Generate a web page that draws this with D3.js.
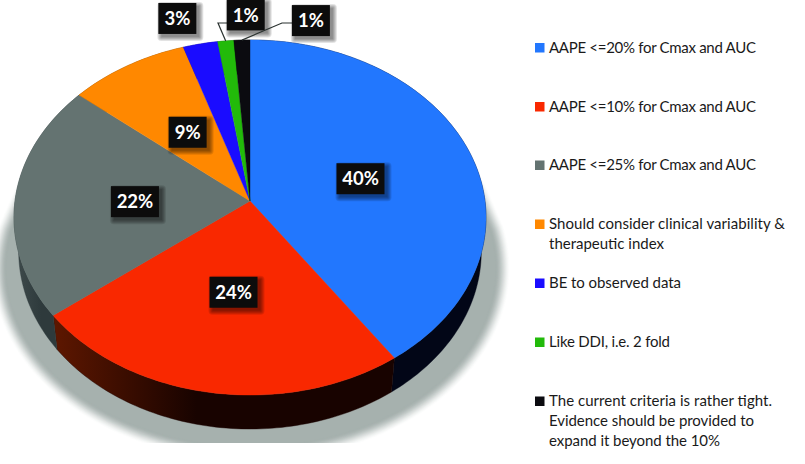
<!DOCTYPE html>
<html><head><meta charset="utf-8">
<script src="https://cdn.jsdelivr.net/npm/d3@7"></script>
<style>html,body{margin:0;background:#fff}svg{display:block}</style></head>
<body><div id="c"></div>
<script>
const categories = ["AAPE <=20% for Cmax and AUC","AAPE <=10% for Cmax and AUC","AAPE <=25% for Cmax and AUC","Should consider clinical variability &\ntherapeutic index","BE to observed data","Like DDI, i.e. 2 fold","The current criteria is rather tight.\nEvidence should be provided to\nexpand it beyond the 10%"];
const values = [40.4,24.1,21.5,9,2.6,1.2,1.2];
const valueLabels = ["40%","24%","22%","9%","3%","1%","1%"];
const topColors = ["#2277fe","#f92800","#647371","#ff8800","#1a0cff","#22ba0a","#0b0b10"];
const sideLight = ["#04081e","#5e1700","#3f4b4c","#7a4000","#0a0480","#0d5a04","#050507"];
const sideDark = ["#020617","#180300","#2e3a3c","#7a4000","#0a0480","#0d5a04","#050507"];
const legendLineWidths = [[207],[207],[207],[236,115],[132],[121],[223,205,171]];

const W=805,H=464,cx=250,cy=201,bR=176,cR=235,k=0.093,depth=34,shrink=0.98;
const project=(a,r=1)=>{const x=Math.sin(a)*r,y=-Math.cos(a)*r,d=1-k*y;return [cx+cR*x/d,cy+bR*y/d];};
const lower=p=>[cx+(p[0]-cx)*shrink,p[1]+depth];
const svg=d3.select("#c").append("svg").attr("width",W).attr("height",H);
const defs=svg.append("defs");

const pie=d3.pie().sort(null).value(d=>d)(values);
const arcPts=(s,e)=>{const n=Math.max(2,Math.ceil((e-s)/0.02));return d3.range(n+1).map(i=>project(s+(e-s)*i/n));};
const line=d3.line();

// ground shadow: lower rim widening from the pie's shoulders; soft edge from opaque nested strokes
const rim=arcPts(Math.PI/2-0.12,1.5*Math.PI+0.12).map(p=>[251+(p[0]-cx)*1.035,p[1]+51]);
const shadowD=line([[472,190]].concat(rim,[[30,190]]))+"Z";
const shadowColor=d3.interpolateRgb("#ffffff","#a6b1ae");
const gShadow=svg.append("g");
const fadeSteps=28;
d3.range(fadeSteps).forEach(i=>{
  const t=(i+1)/fadeSteps;
  gShadow.append("path").attr("d",shadowD).attr("fill","none")
    .attr("stroke",shadowColor(t*t*(3-2*t))).attr("stroke-linejoin","round")
    .attr("stroke-width",30*(1-i/fadeSteps));
});
gShadow.append("path").attr("d",shadowD).attr("fill","#a6b1ae");
svg.append("rect").attr("x",0).attr("y",443).attr("width",520).attr("height",21).attr("fill","#fff");

// walls
pie.forEach((d,i)=>{
  const pts=arcPts(d.startAngle,d.endAngle);
  const id="w"+i;
  const ext=d3.extent(pts,p=>p[0]);
  const g=defs.append("linearGradient").attr("id",id).attr("gradientUnits","userSpaceOnUse")
    .attr("x1",ext[0]).attr("x2",ext[1]).attr("y1",0).attr("y2",0);
  g.append("stop").attr("offset",0).attr("stop-color",sideLight[i]);
  g.append("stop").attr("offset",.42).attr("stop-color",sideDark[i]);
  g.append("stop").attr("offset",1).attr("stop-color",sideDark[i]);
  svg.append("path").attr("d",line(pts.concat(pts.map(lower).reverse()))+"Z")
    .attr("fill",`url(#${id})`).attr("stroke",sideDark[i]).attr("stroke-width",.4);
});
// tops
pie.forEach((d,i)=>{
  svg.append("path").attr("d",line([[cx,cy]].concat(arcPts(d.startAngle,d.endAngle)))+"Z")
    .attr("fill",topColors[i]).attr("stroke",topColors[i]).attr("stroke-width",.4);
});

// labels
const boxW=t=>t.length>2?48:38, boxH=31;
const labelShift=[[2,3],[2,2],[0,2],[0,0],[-23,-25.5],[20,-26],[69,-19.5]];
const leaderBend=[null,null,null,null,null,[218,23,228,23],[282,23,292,23]];
pie.forEach((d,i)=>{
  const mid=(d.startAngle+d.endAngle)/2;
  const base=project(mid,i<4?0.49:1);
  const pos=[base[0]+labelShift[i][0],base[1]+labelShift[i][1]];
  const lb=leaderBend[i];
  if(lb){const p=project(mid);svg.append("path").attr("d",line([p,[lb[0],lb[1]],[lb[2],lb[3]]])).attr("fill","none").attr("stroke","#2a3230").attr("stroke-width",1.2);}
  const g=svg.append("g").attr("transform",`translate(${pos[0]},${pos[1]})`);
  const w=boxW(valueLabels[i]);
  [4,3,2,1,0].forEach(e=>g.append("rect").attr("x",-w/2+3-e).attr("y",-boxH/2+3-e).attr("width",w+2*e).attr("height",boxH+2*e).attr("rx",e).attr("fill","#000").attr("fill-opacity",.11));
  g.append("rect").attr("x",-w/2).attr("y",-boxH/2).attr("width",w).attr("height",boxH).attr("fill","#0c0c0c");
  g.append("text").attr("text-anchor","middle").attr("dy","0.36em").attr("fill","#fff")
    .style("font","700 18.5px Lato, sans-serif").text(valueLabels[i]);
});

// legend
const legendY=[47.5,106.5,165,224,283,342,401];
categories.forEach((c,i)=>{
  const g=svg.append("g").attr("transform",`translate(535,${legendY[i]})`);
  g.append("rect").attr("y",-4.5).attr("width",9.5).attr("height",9.5).attr("fill",topColors[i]);
  c.split("\n").forEach((t,j)=>g.append("text").attr("x",14).attr("y",j*20).attr("dy","0.36em").attr("fill","#1a1a1a")
    .attr("textLength",legendLineWidths[i][j]).attr("lengthAdjust","spacing")
    .style("font","15px Lato, sans-serif").text(t));
});
</script></body></html>
